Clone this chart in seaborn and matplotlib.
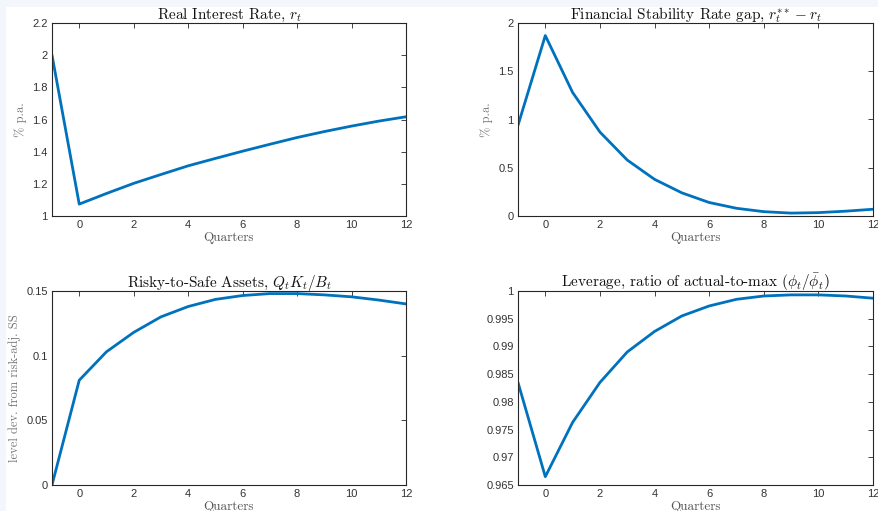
import numpy as np
import pandas as pd
import matplotlib
matplotlib.use("Agg")
import matplotlib.pyplot as plt
import seaborn as sns
from matplotlib.patches import Rectangle

quarters = [-1, 0, 1, 2, 3, 4, 5, 6, 7, 8, 9, 10, 11, 12]
real_rate = [2.0, 1.074, 1.14, 1.203, 1.258, 1.312, 1.358, 1.403, 1.446, 1.488, 1.525, 1.559, 1.59, 1.617]
fs_gap = [0.94, 1.87, 1.28, 0.87, 0.58, 0.38, 0.24, 0.14, 0.08, 0.045, 0.03, 0.035, 0.05, 0.07]
risky_safe = [0.0, 0.081, 0.103, 0.118, 0.130, 0.138, 0.1435, 0.1465, 0.148, 0.148, 0.147, 0.1455, 0.143, 0.140]
leverage = [0.9835, 0.9665, 0.9763, 0.9835, 0.989, 0.9927, 0.9955, 0.9973, 0.9985, 0.9991, 0.9993, 0.9993, 0.9991, 0.9987]

titles = [r"Real Interest Rate, $r_t$",
          r"Financial Stability Rate gap, $r_t^{**} - r_t$",
          r"Risky-to-Safe Assets, $Q_tK_t/B_t$",
          r"Leverage, ratio of actual-to-max $(\phi_t/\bar{\phi}_t)$"]
ylabels = ["% p.a.", "% p.a.", "level dev. from risk-adj. SS", ""]
yticks = [[1, 1.2, 1.4, 1.6, 1.8, 2, 2.2],
          [0, 0.5, 1, 1.5, 2],
          [0, 0.05, 0.1, 0.15],
          [0.965, 0.97, 0.975, 0.98, 0.985, 0.99, 0.995, 1]]
yticklabels = [["1", "1.2", "1.4", "1.6", "1.8", "2", "2.2"],
               ["0", "0.5", "1", "1.5", "2"],
               ["0", "0.05", "0.1", "0.15"],
               ["0.965", "0.97", "0.975", "0.98", "0.985", "0.99", "0.995", "1"]]
xticks = [0, 2, 4, 6, 8, 10, 12]

sns.set_style("white")
plt.rcParams["mathtext.fontset"] = "cm"
plt.rcParams["font.family"] = ["Liberation Sans", "DejaVu Sans"]

W, H = 879, 511
fig = plt.figure(figsize=(W / 100, H / 100), dpi=100)
fig.patch.set_facecolor("#f3f7fc")
fig.patches.append(Rectangle((6 / W, 0), 1 - 6 / W, 1 - 7 / H, transform=fig.transFigure,
                             facecolor="white", edgecolor="none", zorder=-10))

boxes = [(52, 23, 406, 216), (518, 23, 873, 216), (52, 291, 406, 485), (518, 291, 873, 485)]
series = [real_rate, fs_gap, risky_safe, leverage]
serif = "cmr10"
axcol = "#262626"

for i, (x0, y0, x1, y1) in enumerate(boxes):
    ax = fig.add_axes([x0 / W, 1 - y1 / H, (x1 - x0) / W, (y1 - y0) / H])
    df = pd.DataFrame({"Quarters": quarters, "value": series[i]})
    sns.lineplot(data=df, x="Quarters", y="value", ax=ax, color="#0072BD", linewidth=2.0)
    ax.set_xlim(-1, 12)
    ax.set_ylim(yticks[i][0], yticks[i][-1])
    ax.set_xticks(xticks)
    ax.set_xticklabels([str(t) for t in xticks])
    ax.set_yticks(yticks[i])
    ax.set_yticklabels(yticklabels[i])
    ax.tick_params(direction="in", length=3.5, width=0.6, colors=axcol, labelsize=8,
                   top=True, right=True, pad=3)
    for lab in ax.get_xticklabels() + ax.get_yticklabels():
        lab.set_color("#333333")
    for s in ax.spines.values():
        s.set_visible(True)
        s.set_color(axcol)
        s.set_linewidth(0.8)
    ax.set_title(titles[i], fontsize=11, family=serif, color="#111111", pad=3)
    ax.set_xlabel("Quarters", fontsize=9.5, family=serif, color="#555555", labelpad=1)
    ax.set_ylabel(ylabels[i], fontsize=9, family=serif, color="#777777", labelpad=4)

fig.savefig("out.png", dpi=100)
